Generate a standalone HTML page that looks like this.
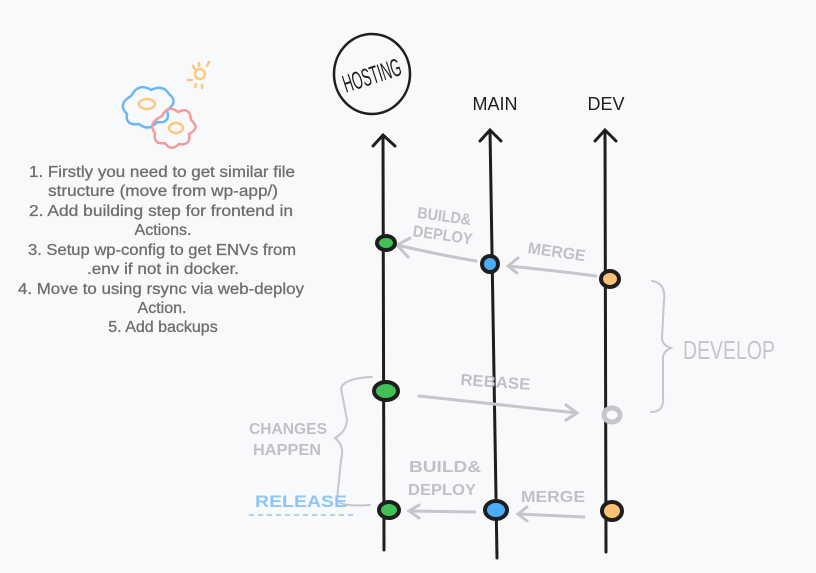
<!DOCTYPE html>
<html><head><meta charset="utf-8"><style>
html,body{margin:0;padding:0;background:#f8f9fb;}
svg{display:block}
text{font-family:"Liberation Sans",sans-serif}
</style></head><body>
<svg width="816" height="573" viewBox="0 0 816 573">
<rect width="816" height="573" fill="#f8f9fb"/>
<g fill="#6e6e6e" font-size="16" text-anchor="middle" stroke="#6e6e6e" stroke-width="0.3">
<text x="162" y="177" textLength="266" lengthAdjust="spacingAndGlyphs">1. Firstly you need to get similar file</text>
<text x="163" y="196" textLength="230" lengthAdjust="spacingAndGlyphs">structure (move from wp-app/)</text>
<text x="161" y="216" textLength="264" lengthAdjust="spacingAndGlyphs">2. Add building step for frontend in</text>
<text x="163" y="235">Actions.</text>
<text x="162" y="255" textLength="268" lengthAdjust="spacingAndGlyphs">3. Setup wp-config to get ENVs from</text>
<text x="163" y="274" textLength="152" lengthAdjust="spacingAndGlyphs">.env if not in docker.</text>
<text x="161" y="294" textLength="286" lengthAdjust="spacingAndGlyphs">4. Move to using rsync via web-deploy</text>
<text x="162" y="313">Action.</text>
<text x="163" y="332">5. Add backups</text>
</g>
<g fill="none" stroke-width="2.5" stroke-linecap="round">
<path d="M131 96 q8-14 20-6 q12-6 18 4 q10 8-2 16 q4 14-10 12 q-8 10-18 2 q-14 2-12-10 q-10-10 4-18z" stroke="#6cb8f5"/>
<ellipse cx="147" cy="104" rx="8" ry="5" stroke="#fcc882"/>
<path d="M162 116 q6-12 16-4 q12-6 13 8 q10 8-2 14 q2 12-10 10 q-8 8-14-1 q-12 2-10-10 q-8-10 7-17z" stroke="#f59a9a"/>
<ellipse cx="176" cy="128" rx="7" ry="5" stroke="#fcc882"/>
<circle cx="200" cy="74" r="5" stroke="#fcc882"/>
<path d="M193 66 l2 3 M199 63 v3 M209 62 l-2 4 M188 80 h4 M196 84 l-1 3 M202 85 v3" stroke="#fcc882"/>
</g>
<g>
<ellipse cx="372" cy="74" rx="38" ry="40" fill="none" stroke="#1e1e1e" stroke-width="2.5"/>
<text x="372" y="84" transform="rotate(-18 372 76)" font-size="25" text-anchor="middle" fill="#1e1e1e" textLength="60" lengthAdjust="spacingAndGlyphs">HOSTING</text>
</g>
<text x="495" y="110" font-size="18" text-anchor="middle" fill="#1e1e1e">MAIN</text>
<text x="606" y="110" font-size="18" text-anchor="middle" fill="#1e1e1e">DEV</text>
<g stroke="#1e1e1e" stroke-width="3" fill="none" stroke-linecap="round">
<path d="M384 550 L383 135 M373 146 L383 135 L395 146"/>
<path d="M497 558 L490 130 M480 141 L490 130 L501 141"/>
<path d="M606 552 L605 130 M595 141 L605 130 L616 141"/>
</g>
<g stroke="#c4c6c9" stroke-width="3" fill="none" stroke-linecap="round">
<path d="M596 276 Q550 270 508 266 M518 258 L508 266 L517 273"/>
<path d="M476 261 Q440 255 397 245 M410 238 L397 245 L408 257"/>
<path d="M419 396 Q500 405 577 413 M566 405 L577 413 L566 420"/>
<path d="M584 517 L518 514 M527 507 L518 514 L527 521"/>
<path d="M475 512 L409 511 M419 505 L409 511 L419 518"/>
<path stroke-width="2" d="M652 281 Q666 283 664 300 L662 338 Q662 345 671 348 Q662 352 663 360 L663 398 Q664 412 651 412"/>
<path stroke-width="2" d="M372 377 Q345 378 341 388 L347 420 Q346 432 335 438 Q345 446 341 460 L337 500 Q340 507 370 505"/>
</g>
<g fill="#bfc1c4" font-size="16" font-weight="bold">
<text x="416" y="221" transform="rotate(8 440 225)" textLength="54" lengthAdjust="spacingAndGlyphs">BUILD&amp;</text>
<text x="412" y="240" transform="rotate(8 440 240)" textLength="60" lengthAdjust="spacingAndGlyphs">DEPLOY</text>
<text x="527" y="257" transform="rotate(8 555 257)" textLength="58" lengthAdjust="spacingAndGlyphs">MERGE</text>
<text x="460" y="387" transform="rotate(4 490 387)" textLength="70" lengthAdjust="spacingAndGlyphs">REBASE</text>
<text x="409" y="472" textLength="72" lengthAdjust="spacingAndGlyphs">BUILD&amp;</text>
<text x="408" y="495" textLength="68" lengthAdjust="spacingAndGlyphs">DEPLOY</text>
<text x="521" y="502" textLength="64" lengthAdjust="spacingAndGlyphs">MERGE</text>
<text x="249" y="434" textLength="78" lengthAdjust="spacingAndGlyphs">CHANGES</text>
<text x="253" y="455" textLength="68" lengthAdjust="spacingAndGlyphs">HAPPEN</text>
</g>
<text x="683" y="359" font-size="26" fill="#c4c6c9" textLength="92" lengthAdjust="spacingAndGlyphs">DEVELOP</text>
<text x="255" y="507" font-size="17" font-weight="bold" fill="#90c6f5" textLength="92" lengthAdjust="spacingAndGlyphs">RELEASE</text>
<path d="M249 515 H354" stroke="#a9d4f7" stroke-width="2" stroke-dasharray="5 4"/>
<g stroke="#1e1e1e" stroke-width="4">
<ellipse cx="386" cy="243" rx="9" ry="7" fill="#40c057"/>
<ellipse cx="490" cy="264" rx="8" ry="8" fill="#4dabf7"/>
<ellipse cx="610" cy="279" rx="9" ry="8" fill="#ffc078"/>
<ellipse cx="386" cy="391" rx="12" ry="9" fill="#40c057"/>
<ellipse cx="389" cy="510" rx="10" ry="8" fill="#40c057"/>
<ellipse cx="496" cy="510" rx="11" ry="9" fill="#4dabf7"/>
<ellipse cx="612" cy="511" rx="10" ry="9" fill="#ffc078"/>
</g>
<ellipse cx="612" cy="415" rx="8" ry="7" fill="#f8f9fb" stroke="#c4c6c9" stroke-width="5"/>
</svg>
</body></html>
